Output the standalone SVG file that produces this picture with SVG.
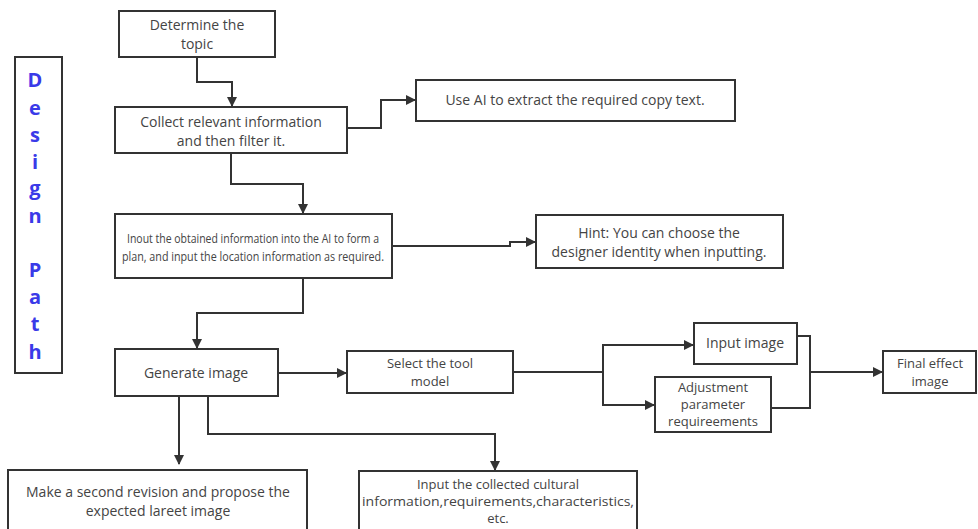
<svg xmlns="http://www.w3.org/2000/svg" width="978" height="529" viewBox="0 0 978 529">
<defs>
<marker id="ah" markerWidth="10" markerHeight="10" refX="9" refY="5" orient="auto" markerUnits="userSpaceOnUse">
<path d="M0,0 L10,5 L0,10 Z" fill="#333"/>
</marker>
<style>
.box{fill:#fff;stroke:#333;stroke-width:2}
.t{font-family:"Open Sans","Noto Sans",sans-serif;font-size:14px;fill:#444;text-anchor:middle}
.s{font-size:13px}
.n{font-size:13px}
.c{fill:none;stroke:#333;stroke-width:2}
.a{marker-end:url(#ah)}
.v{font-family:"Open Sans","Liberation Sans",sans-serif;font-size:20px;font-weight:bold;fill:#3a3ae8;text-anchor:middle}
</style>
</defs>
<rect width="978" height="529" fill="#fff"/>
<g id="title">
<rect class="box" x="15" y="57" width="47" height="316"/>
<text class="v" x="35" y="87">D</text>
<text class="v" x="35" y="115">e</text>
<text class="v" x="35" y="142">s</text>
<text class="v" x="35" y="169">i</text>
<text class="v" x="35" y="195">g</text>
<text class="v" x="35" y="223">n</text>
<text class="v" x="35" y="277">P</text>
<text class="v" x="35" y="304">a</text>
<text class="v" x="35" y="331">t</text>
<text class="v" x="35" y="359">h</text>
</g>
<g id="connectors">
<path class="c a" d="M197,57 V82 H232 V106"/>
<path class="c a" d="M347,128 H381 V100 H415"/>
<path class="c a" d="M231,153 V184 H303 V213"/>
<path class="c a" d="M392,246 H510 V242 H535"/>
<path class="c a" d="M303,278 V313 H197 V348"/>
<path class="c a" d="M278,373 H346"/>
<path class="c" d="M513,372 H603"/>
<path class="c a" d="M603,372 V345 H693"/>
<path class="c a" d="M603,372 V405 H654"/>
<path class="c" d="M797,336 H810 V408 H771"/>
<path class="c a" d="M810,372 H882"/>
<path class="c a" d="M179,396 V464"/>
<path class="c a" d="M208,396 V434 H495 V470"/>
</g>
<g id="n1">
<rect class="box" x="119" y="11" width="156" height="46"/>
<text class="t" x="197" y="30">Determine the</text>
<text class="t" x="197" y="49">topic</text>
</g>
<g id="n2">
<rect class="box" x="115" y="107" width="232" height="46"/>
<text class="t" x="231" y="127">Collect relevant information</text>
<text class="t" x="231" y="146">and then filter it.</text>
</g>
<g id="n3">
<rect class="box" x="416" y="80" width="319" height="41"/>
<text class="t" x="575" y="105">Use AI to extract the required copy text.</text>
</g>
<g id="n4">
<rect class="box" x="115" y="214" width="277" height="64"/>
<text class="t n" x="253" y="243" textLength="252" lengthAdjust="spacingAndGlyphs">Inout the obtained information into the AI to form a</text>
<text class="t n" x="253" y="261" textLength="262" lengthAdjust="spacingAndGlyphs">plan, and input the location information as required.</text>
</g>
<g id="n5">
<rect class="box" x="536" y="215" width="247" height="53"/>
<text class="t" x="659" y="238">Hint: You can choose the</text>
<text class="t" x="659" y="257">designer identity when inputting.</text>
</g>
<g id="n6">
<rect class="box" x="115" y="349" width="163" height="47"/>
<text class="t" x="196" y="378">Generate image</text>
</g>
<g id="n7">
<rect class="box" x="347" y="351" width="166" height="42"/>
<text class="t s" x="430" y="368">Select the tool</text>
<text class="t s" x="430" y="386">model</text>
</g>
<g id="n8">
<rect class="box" x="694" y="323" width="103" height="41"/>
<text class="t" x="745" y="348">Input image</text>
</g>
<g id="n9">
<rect class="box" x="655" y="377" width="116" height="55"/>
<text class="t s" x="713" y="392">Adjustment</text>
<text class="t s" x="713" y="409">parameter</text>
<text class="t s" x="713" y="426">requireements</text>
</g>
<g id="n10">
<rect class="box" x="883" y="351" width="93" height="42"/>
<text class="t s" x="930" y="368">Final effect</text>
<text class="t s" x="930" y="386">image</text>
</g>
<g id="n11">
<rect class="box" x="8" y="470" width="299" height="62"/>
<text class="t" x="158" y="497">Make a second revision and propose the</text>
<text class="t" x="158" y="516">expected lareet image</text>
</g>
<g id="n12">
<rect class="box" x="359" y="471" width="278" height="62"/>
<text class="t s" x="498" y="489">Input the collected cultural</text>
<text class="t s" x="498" y="506" textLength="272" lengthAdjust="spacingAndGlyphs">information,requirements,characteristics,</text>
<text class="t s" x="498" y="523">etc.</text>
</g>
</svg>
